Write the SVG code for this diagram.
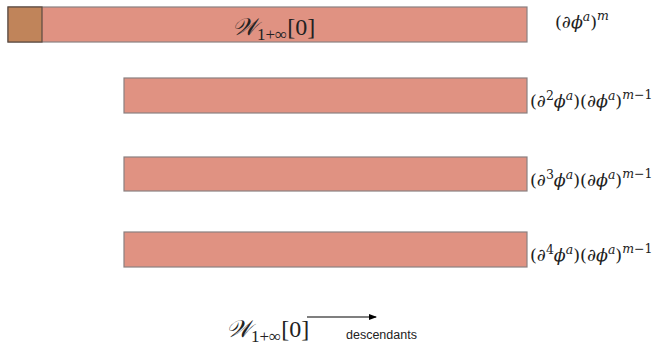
<svg xmlns="http://www.w3.org/2000/svg" width="666" height="345" viewBox="0 0 666 345">
<style>
.bar{fill:#e09282;stroke:#8a8080;stroke-width:1.2}
.sq{fill:#c0845a;stroke:#5a4a40;stroke-width:1.2}
.m{font-family:"DejaVu Serif","Liberation Serif",serif;font-size:17.5px;fill:#222}
.mi{font-style:italic}
.sup{font-size:12.5px}
.big{font-family:"Liberation Serif","DejaVu Serif",serif;font-size:24px;fill:#222}
.s{font-family:"Liberation Sans",Arial,sans-serif;font-size:12.5px;fill:#222}
</style>
<defs>
<marker id="ah" markerWidth="8" markerHeight="6" refX="7" refY="3" orient="auto" markerUnits="userSpaceOnUse">
<path d="M0,0 L8,3 L0,6 z" fill="#000"/>
</marker>
</defs>
<g id="bar1">
<rect class="bar" x="8" y="7" width="519" height="35"/>
<rect class="sq" x="8" y="7" width="34" height="35"/>
<text class="big" x="232" y="35"><tspan font-style="italic">𝒲</tspan><tspan font-size="17" dy="5">1+∞</tspan><tspan dy="-5">[0]</tspan></text>
</g>
<g id="bar2"><rect class="bar" x="124" y="78" width="403" height="35"/></g>
<g id="bar3"><rect class="bar" x="124" y="157" width="403" height="34"/></g>
<g id="bar4"><rect class="bar" x="124" y="232" width="403" height="35"/></g>
<g id="label1"><text class="m" x="555" y="28">(∂<tspan class="mi">ϕ</tspan><tspan class="mi sup" dy="-7">a</tspan><tspan dy="7">)</tspan><tspan class="mi sup" dy="-8">m</tspan></text></g>
<g id="label2"><text class="m" x="530" y="107">(∂<tspan class="sup" dy="-7">2</tspan><tspan class="mi" dy="7">ϕ</tspan><tspan class="mi sup" dy="-7">a</tspan><tspan dy="7">)(∂</tspan><tspan class="mi">ϕ</tspan><tspan class="mi sup" dy="-7">a</tspan><tspan dy="7">)</tspan><tspan class="mi sup" dy="-8">m</tspan><tspan class="sup">−1</tspan></text></g>
<g id="label3"><text class="m" x="530" y="186">(∂<tspan class="sup" dy="-7">3</tspan><tspan class="mi" dy="7">ϕ</tspan><tspan class="mi sup" dy="-7">a</tspan><tspan dy="7">)(∂</tspan><tspan class="mi">ϕ</tspan><tspan class="mi sup" dy="-7">a</tspan><tspan dy="7">)</tspan><tspan class="mi sup" dy="-8">m</tspan><tspan class="sup">−1</tspan></text></g>
<g id="label4"><text class="m" x="530" y="261">(∂<tspan class="sup" dy="-7">4</tspan><tspan class="mi" dy="7">ϕ</tspan><tspan class="mi sup" dy="-7">a</tspan><tspan dy="7">)(∂</tspan><tspan class="mi">ϕ</tspan><tspan class="mi sup" dy="-7">a</tspan><tspan dy="7">)</tspan><tspan class="mi sup" dy="-8">m</tspan><tspan class="sup">−1</tspan></text></g>
<g id="legend">
<text class="big" x="226" y="337"><tspan font-style="italic">𝒲</tspan><tspan font-size="17" dy="5">1+∞</tspan><tspan dy="-5">[0]</tspan></text>
<text class="s" x="346" y="339">descendants</text>
</g>
<g id="connectors">
<line x1="307" y1="317" x2="376" y2="317" stroke="#000" stroke-width="1.2" marker-end="url(#ah)"/>
</g>
</svg>
